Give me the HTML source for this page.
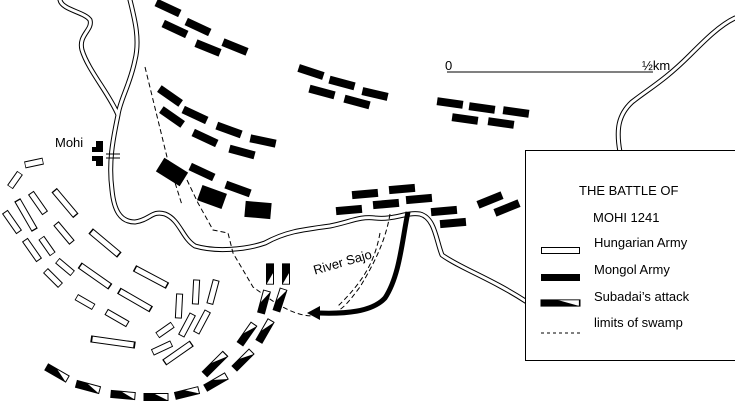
<!DOCTYPE html>
<html><head><meta charset="utf-8"><style>
html,body{margin:0;padding:0;background:#fff;}
svg{display:block;font-family:"Liberation Sans",Arial,sans-serif;}
</style></head><body>
<svg width="735" height="410" viewBox="0 0 735 410" xmlns="http://www.w3.org/2000/svg">
<defs>
<g id="m"><rect x="-13" y="-4" width="26" height="8" fill="#000"/></g>
<g id="h"><rect x="-12" y="-3" width="24" height="6" fill="#fff" stroke="#000" stroke-width="1"/></g>
<g id="a"><rect x="-12" y="-3.5" width="24" height="7" fill="#fff" stroke="#000" stroke-width="1"/><polygon points="-12,-3.5 -2,-3.5 12,3.5 -12,3.5" fill="#000"/></g>
</defs>
<g fill="none" stroke-linejoin="round" stroke-linecap="round">
<path d="M60,0 C62,10 85,12 90,20 C93,30 78,35 82,50 C88,70 110,95 118,115 M130,0 C135,20 140,40 135,60 C130,85 120,100 118,115 C114,135 108,160 112,190 C114,210 120,222 135,222 C150,220 152,210 165,214 C180,220 182,238 195,246 C215,252 245,250 265,243 C285,232 300,230 330,226 C350,222 360,216 375,218 C395,220 405,212 420,214 C435,218 436,240 442,255 C460,268 490,278 527,302 M620,152 C616,130 618,115 632,102 C650,88 665,80 690,55 C705,40 720,25 735,18" stroke="#000" stroke-width="5"/>
<path d="M60,0 C62,10 85,12 90,20 C93,30 78,35 82,50 C88,70 110,95 118,115 M130,0 C135,20 140,40 135,60 C130,85 120,100 118,115 C114,135 108,160 112,190 C114,210 120,222 135,222 C150,220 152,210 165,214 C180,220 182,238 195,246 C215,252 245,250 265,243 C285,232 300,230 330,226 C350,222 360,216 375,218 C395,220 405,212 420,214 C435,218 436,240 442,255 C460,268 490,278 527,302 M620,152 C616,130 618,115 632,102 C650,88 665,80 690,55 C705,40 720,25 735,18" stroke="#fff" stroke-width="3"/>
</g>
<line x1="106" y1="154" x2="120" y2="154" stroke="#000" stroke-width="1"/>
<line x1="106" y1="158" x2="120" y2="158" stroke="#000" stroke-width="1"/>
<path d="M96,141 h7 v11 h-11 v-5 h4z M92,156 h11 v10 h-7 v-5 h-4z" fill="#000"/>
<text x="55" y="147" font-size="13">Mohi</text>
<g fill="none" stroke="#000" stroke-width="1" stroke-dasharray="5,3">
<path d="M145,67 L167,157 L182,205"/>
<path d="M187,180 L198,203 L213,230 L228,233 L233,253 L253,287 L267,297 C285,310 300,316 313,316"/>
<path d="M390,214 C385,245 370,270 360,287 C350,300 343,310 333,313"/>
<path d="M380,233 C375,260 365,280 337,307"/>
</g>
<path d="M408,212 C402,240 400,275 385,298 C372,312 345,314 318,313" fill="none" stroke="#000" stroke-width="5"/>
<polygon points="307,313 320,306 320,320" fill="#000"/>
<g>
<use href="#m" transform="translate(168,8) rotate(25)"/>
<use href="#m" transform="translate(175,29) rotate(25)"/>
<use href="#m" transform="translate(198,27) rotate(25)"/>
<use href="#m" transform="translate(208,48) rotate(22)"/>
<use href="#m" transform="translate(235,47) rotate(22)"/>
<use href="#m" transform="translate(311,72) rotate(18)"/>
<use href="#m" transform="translate(342,83) rotate(15)"/>
<use href="#m" transform="translate(322,92) rotate(15)"/>
<use href="#m" transform="translate(357,102) rotate(15)"/>
<use href="#m" transform="translate(375,94) rotate(13)"/>
<use href="#m" transform="translate(450,103) rotate(8)"/>
<use href="#m" transform="translate(482,108) rotate(8)"/>
<use href="#m" transform="translate(516,112) rotate(8)"/>
<use href="#m" transform="translate(465,119) rotate(8)"/>
<use href="#m" transform="translate(501,123) rotate(8)"/>
<use href="#m" transform="translate(170,96) rotate(35)"/>
<use href="#m" transform="translate(195,115) rotate(25)"/>
<use href="#m" transform="translate(172,117) rotate(35)"/>
<use href="#m" transform="translate(229,130) rotate(20)"/>
<use href="#m" transform="translate(205,138) rotate(25)"/>
<use href="#m" transform="translate(263,141) rotate(12)"/>
<use href="#m" transform="translate(242,152) rotate(15)"/>
<rect x="-14" y="-8" width="28" height="16" transform="translate(172,172) rotate(32)" fill="#000"/>
<use href="#m" transform="translate(202,172) rotate(25)"/>
<rect x="-13" y="-8" width="26" height="16" transform="translate(212,197) rotate(20)" fill="#000"/>
<use href="#m" transform="translate(238,189) rotate(20)"/>
<rect x="-13" y="-8" width="26" height="16" transform="translate(258,210) rotate(5)" fill="#000"/>
<use href="#m" transform="translate(365,194) rotate(-5)"/>
<use href="#m" transform="translate(402,189) rotate(-5)"/>
<use href="#m" transform="translate(349,210) rotate(-5)"/>
<use href="#m" transform="translate(386,204) rotate(-5)"/>
<use href="#m" transform="translate(419,199) rotate(-5)"/>
<use href="#m" transform="translate(444,211) rotate(-5)"/>
<use href="#m" transform="translate(453,223) rotate(-5)"/>
<use href="#m" transform="translate(490,200) rotate(-22)"/>
<use href="#m" transform="translate(507,208) rotate(-22)"/>
</g>
<g>
<use href="#h" transform="translate(34,163) rotate(-12) scale(0.75,1)"/>
<use href="#h" transform="translate(15,180) rotate(-55) scale(0.7,1)"/>
<use href="#h" transform="translate(26,215) rotate(60) scale(1.4,1)"/>
<use href="#h" transform="translate(38,203) rotate(55)"/>
<use href="#h" transform="translate(65,203) rotate(50) scale(1.35,1)"/>
<use href="#h" transform="translate(12,222) rotate(55)"/>
<use href="#h" transform="translate(32,250) rotate(55)"/>
<use href="#h" transform="translate(47,246) rotate(55) scale(0.8,1)"/>
<use href="#h" transform="translate(64,233) rotate(50)"/>
<use href="#h" transform="translate(105,243) rotate(40) scale(1.5,1)"/>
<use href="#h" transform="translate(53,278) rotate(45) scale(0.85,1)"/>
<use href="#h" transform="translate(65,267) rotate(40) scale(0.8,1)"/>
<use href="#h" transform="translate(95,276) rotate(35) scale(1.5,1)"/>
<use href="#h" transform="translate(151,277) rotate(28) scale(1.5,1)"/>
<use href="#h" transform="translate(85,302) rotate(30) scale(0.8,1)"/>
<use href="#h" transform="translate(117,318) rotate(30)"/>
<use href="#h" transform="translate(135,300) rotate(30) scale(1.5,1)"/>
<use href="#h" transform="translate(113,342) rotate(8) scale(1.8,1)"/>
<use href="#h" transform="translate(179,306) rotate(-87)"/>
<use href="#h" transform="translate(196,292) rotate(-87)"/>
<use href="#h" transform="translate(213,292) rotate(-75)"/>
<use href="#h" transform="translate(165,330) rotate(-35) scale(0.75,1)"/>
<use href="#h" transform="translate(187,325) rotate(-62)"/>
<use href="#h" transform="translate(202,322) rotate(-62)"/>
<use href="#h" transform="translate(162,348) rotate(-25) scale(0.85,1)"/>
<use href="#h" transform="translate(178,353) rotate(-35) scale(1.35,1)"/>
</g>
<g>
<use href="#a" transform="translate(270,274) rotate(90) scale(0.85,1)"/>
<use href="#a" transform="translate(286,274) rotate(90) scale(0.85,1)"/>
<use href="#a" transform="translate(264,302) rotate(-75) scale(0.95,1)"/>
<use href="#a" transform="translate(280,300) rotate(-72) scale(0.95,1)"/>
<use href="#a" transform="translate(247,334) rotate(-55)"/>
<use href="#a" transform="translate(265,331) rotate(-60)"/>
<use href="#a" transform="translate(215,364) rotate(-45) scale(1.2,1)"/>
<use href="#a" transform="translate(243,360) rotate(-45)"/>
<use href="#a" transform="translate(216,382) rotate(-30)"/>
<use href="#a" transform="translate(187,393) rotate(-14)"/>
<use href="#a" transform="translate(156,397) rotate(0)"/>
<use href="#a" transform="translate(123,395) rotate(5)"/>
<use href="#a" transform="translate(88,387) rotate(15)"/>
<use href="#a" transform="translate(57,373) rotate(30)"/>
</g>
<text x="312" y="270" font-size="13" transform="rotate(-16 330 262)">River Sajo</text>
<line x1="447" y1="72" x2="653" y2="72" stroke="#000" stroke-width="1"/>
<text x="445" y="70" font-size="13">0</text>
<text x="642" y="70" font-size="13">½km</text>
<rect x="525.5" y="150.5" width="215" height="210" fill="#fff" stroke="#000" stroke-width="1"/>
<text x="579" y="195" font-size="13">THE BATTLE OF</text>
<text x="593" y="222" font-size="13">MOHI 1241</text>
<text x="594" y="247" font-size="13">Hungarian Army</text>
<text x="594" y="274" font-size="13">Mongol Army</text>
<text x="594" y="301" font-size="13">Subadai’s attack</text>
<text x="594" y="327" font-size="13">limits of swamp</text>
<rect x="541.5" y="247.5" width="38" height="6" fill="#fff" stroke="#000"/>
<rect x="541" y="274" width="39" height="7" fill="#000"/>
<g transform="translate(560.5,303) scale(1.6,0.9)"><use href="#a"/></g>
<line x1="541" y1="333" x2="580" y2="333" stroke="#000" stroke-dasharray="3,3"/>
</svg>
</body></html>
